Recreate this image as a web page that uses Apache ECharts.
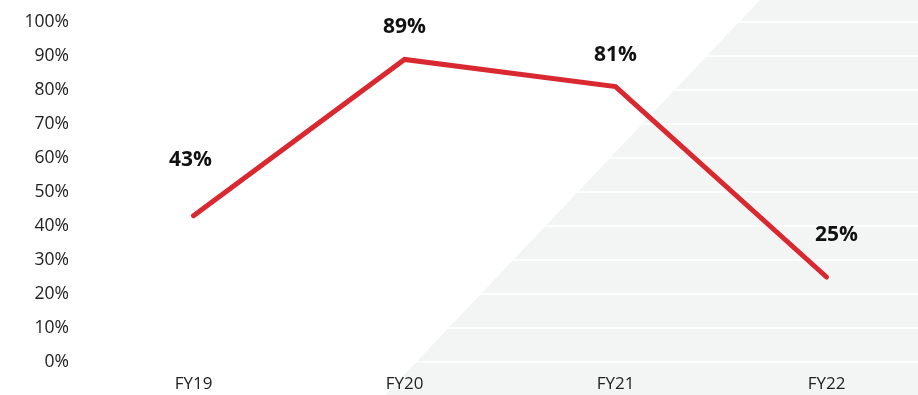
<!DOCTYPE html>
<html>
<head>
<meta charset="utf-8">
<script src="https://cdn.jsdelivr.net/npm/echarts@6/dist/echarts.min.js"></script>
<style>
  html, body { margin: 0; padding: 0; background: #ffffff; }
  #chart { width: 918px; height: 395px; }
</style>
</head>
<body>
<div id="chart"></div>
<script>
// Fiscal years on the category axis
const categories = ['FY19', 'FY20', 'FY21', 'FY22'];
// Share per year, in percent
const shareValues = [43, 89, 81, 25];
// Value-axis ticks (percent)
const yTicks = [0, 10, 20, 30, 40, 50, 60, 70, 80, 90, 100];

// Label nudges per point [dx, dy] so each value label sits where it reads best
const labelNudges = [[-3, -44], [0, -20], [0, -20], [10, -30]];

const chart = echarts.init(document.getElementById('chart'), null, { renderer: 'canvas' });

const fontFamily = '"Open Sans", Lato, "Noto Sans", sans-serif';
const lineRed = '#d9282f';

const seriesData = shareValues.map((v, i) => ({
  value: v,
  label: { offset: labelNudges[i] }
}));

chart.setOption({
  animation: false,
  backgroundColor: '#ffffff',
  graphic: [{
    type: 'polygon',
    z: -10,
    silent: true,
    shape: { points: [[760, 0], [918, 0], [918, 395], [385, 395]] },
    style: { fill: '#f3f5f4' }
  }],
  grid: {
    left: 88, width: 844, top: 22, bottom: 33,
    containLabel: false,
    outerBoundsMode: 'none'
  },
  xAxis: {
    type: 'category',
    data: categories,
    boundaryGap: true,
    axisLine: { show: false },
    axisTick: { show: false },
    axisLabel: { color: '#222222', fontSize: 17, fontFamily: fontFamily, margin: 14 }
  },
  yAxis: {
    type: 'value',
    min: yTicks[0],
    max: yTicks[yTicks.length - 1],
    interval: yTicks[1] - yTicks[0],
    axisLine: { show: false },
    axisTick: { show: false },
    axisLabel: {
      color: '#222222', fontSize: 17.5, fontFamily: fontFamily, margin: 19,
      formatter: v => v + '%'
    },
    splitLine: { show: true, lineStyle: { color: '#ffffff', width: 1.5 } }
  },
  series: [{
    type: 'line',
    data: seriesData,
    // tiny dot hidden under the stroke, it only carries the value label
    symbol: 'circle',
    symbolSize: 3,
    showSymbol: true,
    itemStyle: { color: lineRed, borderWidth: 0 },
    lineStyle: { color: lineRed, width: 5, cap: 'round', join: 'miter' },
    label: {
      show: true,
      position: 'top',
      distance: 0,
      color: '#111111',
      fontSize: 21,
      fontWeight: 'bold',
      fontFamily: fontFamily,
      formatter: p => p.value + '%'
    }
  }]
});
</script>
</body>
</html>
